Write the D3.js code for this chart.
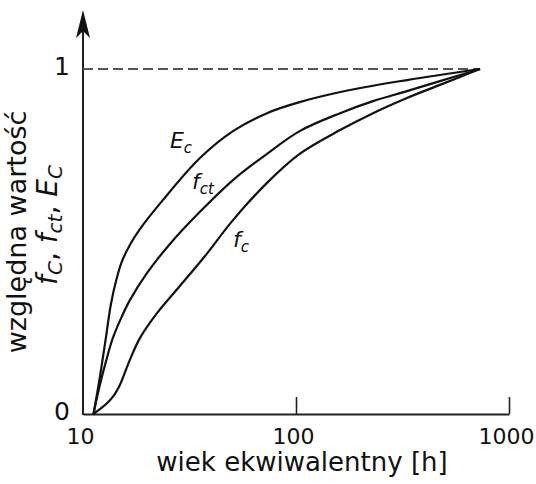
<!DOCTYPE html>
<html>
<head>
<meta charset="utf-8">
<script src="https://cdn.jsdelivr.net/npm/d3@7"></script>
<style>
  body { margin: 0; background: #fff; }
  svg { display: block; font-family: "DejaVu Sans", Verdana, sans-serif; }
</style>
</head>
<body>
<svg id="chart" width="536" height="484"></svg>
<script>
// Values: equivalent age [h] and relative value (0..1)
const ecAge = [11.2, 12.0, 12.8, 13.5, 14.3, 15.2, 16.6, 18.5, 23.7, 35.4, 50.6, 73.1, 104, 179, 332, 731];
const ecValue = [0, 0.107, 0.22, 0.316, 0.386, 0.441, 0.49, 0.536, 0.62, 0.742, 0.82, 0.872, 0.904, 0.939, 0.968, 1];

const fctAge = [11.2, 12.0, 12.8, 13.8, 15.1, 16.6, 20.0, 25.6, 35.4, 50.6, 73.1, 104, 161, 230, 332, 474, 731];
const fctValue = [0, 0.084, 0.151, 0.22, 0.278, 0.33, 0.409, 0.493, 0.586, 0.678, 0.754, 0.82, 0.872, 0.907, 0.936, 0.965, 1];

const fcAge = [11.2, 12.0, 13.0, 14.0, 14.9, 15.7, 16.6, 18.5, 22.3, 28.5, 37.4, 50.6, 73.1, 104, 161, 230, 332, 474, 731];
const fcValue = [0, 0.014, 0.032, 0.055, 0.084, 0.119, 0.157, 0.22, 0.293, 0.371, 0.458, 0.562, 0.67, 0.754, 0.823, 0.872, 0.916, 0.954, 1];

const xTicks = [10, 100, 1000];
const yTicks = [0, 1];
const xTitle = "wiek ekwiwalentny [h]";
const yTitle = "względna wartość";

// curve names: main letter + subscript, anchored at (age, value)
const curveNames = [
  { main: "E", sub: "c", age: 25.6, value: 0.771 },
  { main: "f", sub: "ct", age: 32.5, value: 0.652 },
  { main: "f", sub: "c", age: 50.6, value: 0.484 }
];

const svg = d3.select("#chart");
const ink = "#111";

const x = d3.scaleLog().domain([10, 1000]).range([83, 509]);
const y = d3.scaleLinear().domain([0, 1]).range([414, 69]);

// x axis, ticks point up into the plot
const xAxis = d3.axisBottom(x)
    .tickValues(xTicks)
    .tickFormat(d3.format("d"))
    .tickSizeInner(-17)
    .tickSizeOuter(0)
    .tickPadding(14);

const gx = svg.append("g")
    .attr("transform", `translate(0,${y(0)})`)
    .call(xAxis)
    .attr("font-family", null)
    .attr("font-size", 22);
gx.select(".domain").attr("stroke", "#222").attr("stroke-width", 2);
gx.selectAll(".tick line").attr("stroke", "#222").attr("stroke-width", 1.6)
    .filter(d => d === 10).remove();
gx.selectAll(".tick text").attr("fill", ink).attr("dx", -3);

// y axis: only 0 and 1 labels, line drawn separately with an arrow
const yAxis = d3.axisLeft(y).tickValues(yTicks).tickFormat(d => d).tickSize(0).tickPadding(13);
const gy = svg.append("g")
    .attr("transform", `translate(${x(10)},0)`)
    .call(yAxis)
    .attr("font-family", null)
    .attr("font-size", 25);
gy.select(".domain").remove();
gy.selectAll(".tick text").attr("fill", ink).attr("dy", "0.2em");

svg.append("line")
    .attr("x1", x(10)).attr("x2", x(10))
    .attr("y1", y(0) + 1).attr("y2", 30)
    .attr("stroke", "#222").attr("stroke-width", 2);

const ax = x(10);
svg.append("path")
    .attr("d", `M${ax},10 L${ax - 7},38 L${ax},31 L${ax + 7},38 Z`)
    .attr("fill", ink);

// dashed reference at value 1
svg.append("line")
    .attr("x1", x(10)).attr("x2", x(ecAge[ecAge.length - 1]))
    .attr("y1", y(1)).attr("y2", y(1))
    .attr("stroke", "#555").attr("stroke-width", 2)
    .attr("stroke-dasharray", "10,5");

// curves
const line = d3.line()
    .x(d => x(d[0]))
    .y(d => y(d[1]))
    .curve(d3.curveCatmullRom.alpha(0.5));

const series = [
  d3.zip(ecAge, ecValue),
  d3.zip(fctAge, fctValue),
  d3.zip(fcAge, fcValue)
];

svg.selectAll("path.curve")
    .data(series)
  .join("path")
    .attr("class", "curve")
    .attr("d", line)
    .attr("fill", "none")
    .attr("stroke", ink)
    .attr("stroke-width", 2.2);

// curve names
const names = svg.selectAll("text.name")
    .data(curveNames)
  .join("text")
    .attr("class", "name")
    .attr("x", d => x(d.age))
    .attr("y", d => y(d.value))
    .attr("font-size", 22)
    .attr("font-style", "italic")
    .attr("fill", ink);
names.append("tspan").text(d => d.main);
names.append("tspan").attr("dy", 5).attr("font-size", 15).text(d => d.sub);

// axis titles
svg.append("text")
    .attr("x", 302).attr("y", 471)
    .attr("text-anchor", "middle")
    .attr("font-size", 26)
    .attr("fill", ink)
    .text(xTitle);

svg.append("text")
    .attr("transform", "translate(26,232) rotate(-90)")
    .attr("text-anchor", "middle")
    .attr("font-size", 27)
    .attr("fill", ink)
    .text(yTitle);

// second title line: f_C, f_ct, E_C
const y2 = svg.append("text")
    .attr("transform", "translate(57,225) rotate(-90)")
    .attr("text-anchor", "middle")
    .attr("font-size", 28)
    .attr("fill", ink);
[["f", "C", ", "], ["f", "ct", ", "], ["E", "C", ""]].forEach(([m, s, sep]) => {
  y2.append("tspan").attr("font-style", "italic").text(m);
  y2.append("tspan").attr("font-style", "italic").attr("font-size", 20).attr("dy", 5).text(s);
  y2.append("tspan").attr("dy", -5).text(sep);
});
</script>
</body>
</html>
